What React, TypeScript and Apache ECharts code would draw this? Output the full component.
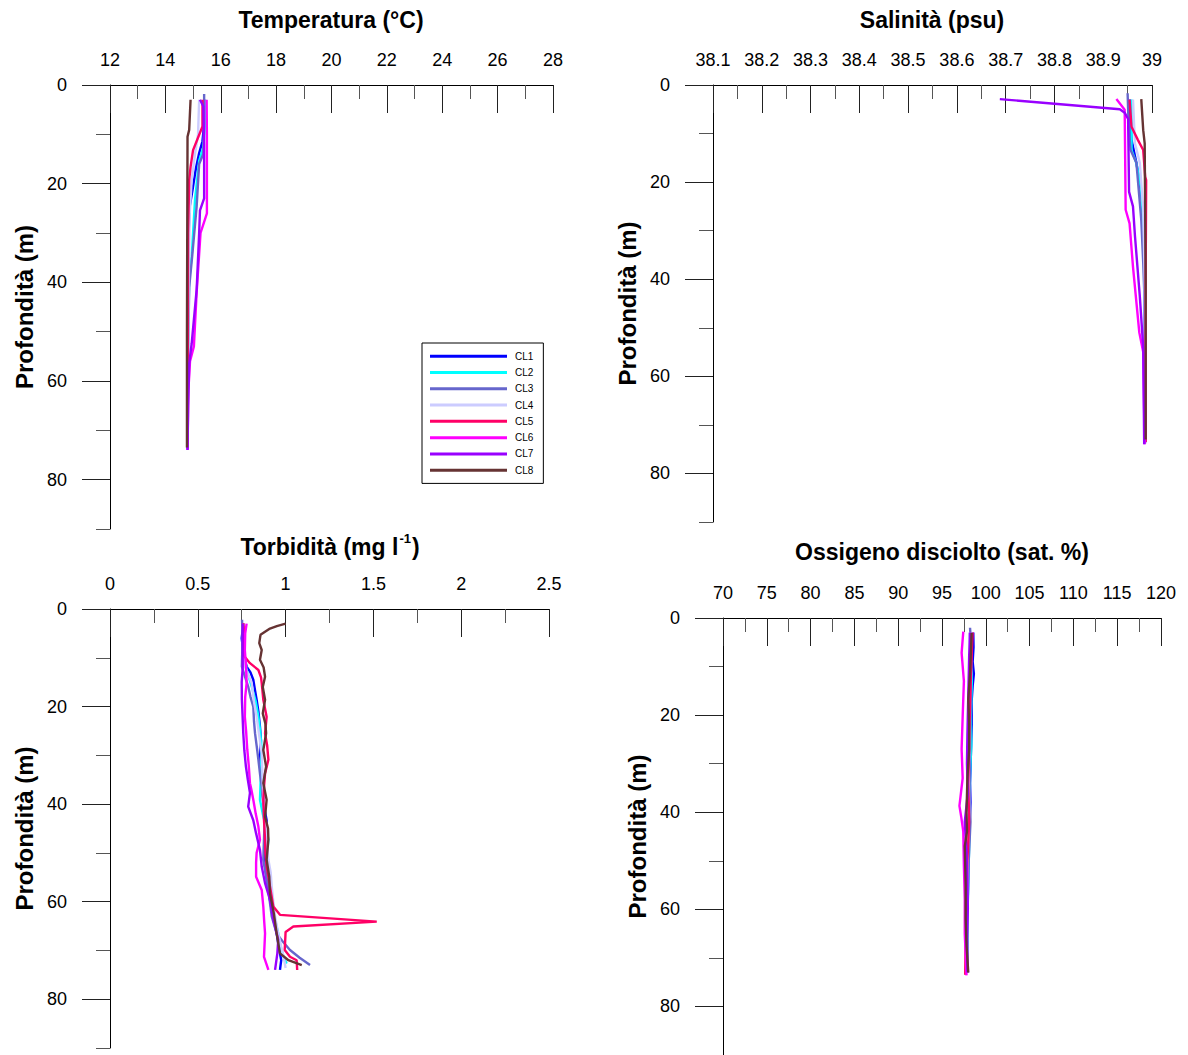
import React, { useEffect, useRef } from "react";
import * as echarts from "echarts";

// ---------- Stations ----------
const stations = ["CL1", "CL2", "CL3", "CL4", "CL5", "CL6", "CL7", "CL8"];
const colors = ["#0000ff", "#00ffff", "#6666cc", "#ccccff", "#ff0066", "#ff00ff", "#9900ff", "#663333"];

// ---------- Y axis (depth) ----------
const depthLabels = [0, 20, 40, 60, 80];

// ---------- Temperatura (°C) : [value, depth] ----------
const tempCL1 = [[15.42, 3], [15.4, 8], [15.34, 11.4], [15.22, 13.8], [15.1, 17], [14.98, 21.3], [14.88, 24.6], [14.84, 30], [14.82, 40], [14.81, 55], [14.8, 73.5]];
const tempCL2 = [[15.45, 3], [15.42, 9], [15.37, 12.7], [15.22, 15.4], [15.07, 23.3], [14.95, 34.8], [14.86, 39.5], [14.82, 50], [14.8, 73.5]];
const tempCL3 = [[15.4, 1.8], [15.4, 8], [15.37, 14], [15.22, 16], [15.13, 24.6], [14.98, 34], [14.86, 41], [14.82, 55], [14.8, 73.8]];
const tempCL4 = [[15.22, 3], [15.18, 10], [15.07, 14], [14.95, 19.3], [14.88, 26], [14.84, 40], [14.81, 73]];
const tempCL5 = [[15.34, 3], [15.34, 8.4], [15.0, 13.2], [14.91, 16.6], [14.86, 19.3], [14.82, 30], [14.8, 73.5]];
const tempCL6 = [[15.49, 3], [15.5, 10], [15.5, 26], [15.27, 30], [15.13, 42], [15.03, 53], [14.89, 56], [14.83, 62], [14.8, 74]];
const tempCL7 = [[15.25, 3], [15.37, 4.3], [15.4, 12], [15.4, 23], [15.25, 25.4], [15.22, 30], [15.13, 41.5], [14.95, 52.4], [14.86, 56.5], [14.82, 65], [14.8, 74]];
const tempCL8 = [[14.91, 3], [14.86, 9.1], [14.8, 10.5], [14.79, 30], [14.78, 50], [14.78, 73.5]];

// ---------- Salinità (psu) ----------
const salCL1 = [[38.955, 3], [38.956, 8], [38.958, 11.3], [38.968, 16], [38.978, 22.3], [38.984, 30], [38.985, 50], [38.986, 73.5]];
const salCL2 = [[38.958, 3], [38.958, 13.4], [38.968, 16.1], [38.978, 21.6], [38.985, 33], [38.986, 50], [38.986, 73.5]];
const salCL3 = [[38.95, 1.7], [38.952, 8], [38.956, 13.4], [38.968, 16], [38.978, 27.8], [38.982, 36.6], [38.985, 45], [38.986, 73.8]];
const salCL4 = [[38.961, 3], [38.965, 12], [38.975, 16], [38.982, 25.7], [38.985, 40], [38.986, 73]];
const salCL5 = [[38.954, 3], [38.958, 8.6], [38.971, 11.3], [38.982, 13.4], [38.986, 18.9], [38.988, 19.6], [38.987, 40], [38.987, 73.5]];
const salCL6 = [[38.927, 2.9], [38.944, 5.1], [38.946, 25.7], [38.954, 28.5], [38.961, 37.4], [38.974, 51], [38.982, 55], [38.985, 74]];
const salCL7 = [[38.688, 2.9], [38.934, 5], [38.944, 5.7], [38.951, 7], [38.953, 22], [38.961, 25], [38.965, 31], [38.975, 43.5], [38.982, 54], [38.984, 74]];
const salCL8 = [[38.978, 2.9], [38.982, 9.3], [38.985, 12], [38.987, 40], [38.987, 73]];

// ---------- Torbidità (mg l-1) ----------
const turbCL1 = [[0.76, 3], [0.75, 6], [0.76, 9], [0.778, 11.8], [0.8, 13], [0.816, 14.5], [0.825, 16.5], [0.835, 18.6], [0.845, 21], [0.854, 24.1], [0.86, 27], [0.855, 30], [0.864, 35], [0.87, 38], [0.88, 41], [0.892, 43.3], [0.885, 47], [0.883, 52.8], [0.895, 56], [0.911, 59.6], [0.93, 63], [0.949, 66.5], [0.96, 69], [0.975, 72], [0.968, 74]];
const turbCL2 = [[0.76, 3], [0.755, 8], [0.778, 12.5], [0.807, 15.9], [0.83, 19], [0.845, 22.1], [0.855, 25], [0.864, 28.9], [0.86, 33], [0.854, 39.1], [0.87, 42], [0.89, 45], [0.902, 47.3], [0.895, 50], [0.892, 52.8], [0.905, 56], [0.921, 59.6], [0.935, 63], [0.958, 66.5], [0.97, 69], [0.99, 71.5], [1.006, 72.7]];
const turbCL3 = [[0.752, 2.2], [0.755, 6], [0.751, 11.8], [0.77, 14], [0.787, 15.9], [0.8, 18], [0.816, 20], [0.82, 23], [0.826, 25.5], [0.835, 28], [0.845, 30.9], [0.855, 34], [0.864, 36.4], [0.87, 39], [0.883, 41.9], [0.878, 46], [0.873, 51.4], [0.89, 55], [0.902, 57.6], [0.91, 60], [0.921, 63], [0.949, 66.5], [0.98, 68], [1.025, 69.9], [1.08, 71.5], [1.139, 73]];
const turbCL4 = [[0.76, 3], [0.758, 7], [0.768, 11.8], [0.787, 13.5], [0.807, 15.2], [0.82, 19], [0.835, 22], [0.85, 26], [0.864, 29.6], [0.868, 34], [0.873, 39], [0.885, 44], [0.895, 48], [0.902, 51.4], [0.915, 54], [0.921, 56.9], [0.93, 60], [0.94, 63], [0.955, 66], [0.975, 69.2], [0.99, 71.5], [1.0, 73.6]];
const turbCL5 = [[0.759, 2.9], [0.765, 5], [0.759, 8], [0.765, 9.7], [0.797, 11.1], [0.845, 12.5], [0.86, 14], [0.864, 15.2], [0.873, 18.6], [0.892, 22.1], [0.883, 25.5], [0.895, 28], [0.902, 30.9], [0.883, 33.7], [0.878, 36], [0.873, 39.1], [0.877, 43.3], [0.883, 47.3], [0.885, 50], [0.892, 52.8], [0.911, 56.9], [0.93, 61], [0.968, 62.7], [1.519, 64.1], [1.044, 65.1], [1.0, 66.2], [0.995, 69.9], [1.025, 71.3], [1.063, 72], [1.066, 74]];
const turbCL6 = [[0.778, 3], [0.77, 5], [0.768, 8.4], [0.775, 12], [0.778, 15.2], [0.77, 18], [0.768, 22.1], [0.775, 25], [0.782, 28.9], [0.79, 32], [0.797, 35.7], [0.805, 37], [0.816, 39.1], [0.83, 42], [0.845, 44.6], [0.854, 47.3], [0.835, 50], [0.832, 52], [0.832, 54.9], [0.864, 57.6], [0.873, 61], [0.878, 64], [0.883, 66.5], [0.877, 71.3], [0.902, 74]];
const turbCL7 = [[0.756, 3], [0.755, 7], [0.756, 11.8], [0.75, 15], [0.751, 18.6], [0.755, 22], [0.759, 25.5], [0.765, 29], [0.774, 32.3], [0.785, 35], [0.797, 37.7], [0.787, 40.5], [0.816, 43.3], [0.832, 46], [0.854, 49.4], [0.864, 52.8], [0.883, 56.2], [0.911, 59.6], [0.93, 63.7], [0.958, 67.8], [0.953, 70.6], [0.94, 74]];
const turbCL8 = [[1.0, 3], [0.95, 3.5], [0.911, 4], [0.857, 5.3], [0.85, 7], [0.864, 8.4], [0.854, 10.4], [0.875, 12], [0.883, 13.9], [0.87, 16], [0.883, 18.6], [0.87, 21.4], [0.885, 23.5], [0.889, 25.5], [0.873, 28.9], [0.889, 32.3], [0.873, 35.7], [0.892, 39.1], [0.883, 42.6], [0.9, 45], [0.902, 47.3], [0.892, 51.4], [0.907, 54.9], [0.911, 58.3], [0.933, 62.4], [0.949, 66.5], [0.968, 70.6], [1.016, 72], [1.092, 73]];

// ---------- Ossigeno disciolto (sat. %) ----------
const oxyCL1 = [[98.57, 3], [98.6, 6], [98.5, 9], [98.64, 11.5], [98.5, 14], [98.38, 17.3], [98.4, 22], [98.3, 28], [98.2, 34], [98.25, 38], [98.1, 44], [98.0, 50], [97.95, 57], [97.8, 63], [97.85, 68], [97.9, 73]];
const oxyCL2 = [[98.3, 3], [98.3, 8], [98.4, 13], [98.3, 20], [98.35, 26], [98.2, 32], [98.15, 40], [98.1, 47], [98.0, 54], [97.9, 62], [97.95, 68], [97.9, 73]];
const oxyCL3 = [[98.2, 2], [98.35, 6], [98.3, 12], [98.25, 20], [98.2, 28], [98.15, 35], [98.25, 42], [98.05, 50], [97.95, 58], [97.9, 65], [97.95, 73]];
const oxyCL4 = [[98.1, 3], [98.25, 8], [98.2, 15], [98.15, 24], [98.05, 32], [98.1, 40], [97.95, 48], [97.9, 56], [97.85, 64], [97.9, 73]];
const oxyCL5 = [[98.5, 3], [98.4, 7], [98.3, 12], [98.2, 18], [98.1, 26], [98.0, 34], [98.1, 42], [97.9, 50], [97.8, 58], [97.7, 66], [97.65, 73.5]];
const oxyCL6 = [[97.43, 2.8], [97.24, 7.2], [97.5, 13], [97.36, 20.3], [97.24, 27], [97.36, 33], [96.99, 38.7], [97.2, 41], [97.43, 44], [97.5, 51], [97.6, 58], [97.6, 65], [97.8, 73.6]];
const oxyCL7 = [[98.2, 3], [98.1, 8], [98.0, 16], [97.9, 24], [97.85, 30], [97.95, 36], [97.6, 42], [97.8, 48], [97.9, 54], [97.95, 60], [97.85, 66], [97.9, 73]];
const oxyCL8 = [[98.38, 3.1], [98.3, 7], [98.2, 11.4], [98.0, 16.8], [98.1, 22], [98.1, 27], [97.9, 33], [97.8, 40], [97.85, 44], [97.6, 47], [97.7, 55], [97.7, 62], [97.8, 67.5], [98.0, 73]];

const tempData = [tempCL1, tempCL2, tempCL3, tempCL4, tempCL5, tempCL6, tempCL7, tempCL8];
const salData = [salCL1, salCL2, salCL3, salCL4, salCL5, salCL6, salCL7, salCL8];
const turbData = [turbCL1, turbCL2, turbCL3, turbCL4, turbCL5, turbCL6, turbCL7, turbCL8];
const oxyData = [oxyCL1, oxyCL2, oxyCL3, oxyCL4, oxyCL5, oxyCL6, oxyCL7, oxyCL8];

const FONT = "'Liberation Sans', Arial, Helvetica, sans-serif";

const panels = [
  { data: tempData, grid: { left: 110, top: 85, width: 443, height: 444 }, min: 12, max: 28, interval: 2, dec: 0 },
  { data: salData, grid: { left: 713, top: 85, width: 439, height: 437 }, min: 38.1, max: 39, interval: 0.1, dec: 1 },
  { data: turbData, grid: { left: 110, top: 609, width: 439, height: 439 }, min: 0, max: 2.5, interval: 0.5, dec: 1 },
  { data: oxyData, grid: { left: 723, top: 618, width: 438, height: 438 }, min: 70, max: 120, interval: 5, dec: 0 },
];

export default function App() {
  const ref = useRef<HTMLDivElement>(null);
  useEffect(() => {
    if (!ref.current) return;
    const chart = echarts.init(ref.current, null, { renderer: "svg" });

    const grids = panels.map((p) => ({ ...p.grid, containLabel: false }));
    const xAxes = panels.map((p, gi) => ({
      type: "value",
      gridIndex: gi,
      position: "top",
      min: p.min,
      max: p.max,
      interval: p.interval,
      axisLine: { show: true, onZero: false, lineStyle: { color: "#000", width: 1 } },
      axisTick: { show: true, inside: true, length: 28, lineStyle: { color: "#222", width: 1 } },
      minorTick: { show: true, splitNumber: 2, length: 14, lineStyle: { color: "#555", width: 1 } },
      axisLabel: {
        margin: 16,
        fontSize: 18,
        color: "#000",
        fontFamily: FONT,
        formatter: (v: number) => String(parseFloat(v.toFixed(p.dec))),
      },
      splitLine: { show: false },
    }));
    const yAxes: any[] = [];
    panels.forEach((p, gi) => {
      yAxes.push({
        type: "value",
        gridIndex: gi,
        position: "left",
        inverse: true,
        min: 0,
        max: 90,
        interval: 10,
        axisLine: { show: true, onZero: false, lineStyle: { color: "#000", width: 1 } },
        axisTick: { show: true, length: 14, lineStyle: { color: "#555", width: 1 } },
        axisLabel: { show: false },
        splitLine: { show: false },
        name: "Profondità (m)",
        nameLocation: "middle",
        nameGap: 74,
        nameRotate: 90,
        nameTextStyle: { fontSize: 24, fontWeight: "bold", color: "#000", fontFamily: FONT },
      });
      yAxes.push({
        type: "value",
        gridIndex: gi,
        position: "left",
        inverse: true,
        min: 0,
        max: 90,
        interval: 10,
        axisLine: { show: false, onZero: false },
        axisTick: { show: true, length: 28, customValues: depthLabels, lineStyle: { color: "#222", width: 1 } },
        axisLabel: { show: true, customValues: depthLabels, margin: 43, fontSize: 18, color: "#000", fontFamily: FONT },
        splitLine: { show: false },
      });
    });

    const series: any[] = [];
    panels.forEach((p, gi) => {
      p.data.forEach((d, si) => {
        series.push({
          type: "line",
          name: stations[si],
          xAxisIndex: gi,
          yAxisIndex: gi * 2,
          data: d,
          showSymbol: false,
          symbol: "none",
          lineStyle: { width: 2.4, color: colors[si] },
          itemStyle: { color: colors[si] },
          emphasis: { disabled: true },
        });
      });
    });

    const titleStyle = { font: `bold 23px ${FONT}`, fill: "#000", align: "center", verticalAlign: "middle" };

    chart.setOption({
      animation: false,
      backgroundColor: "#fff",
      grid: grids,
      xAxis: xAxes,
      yAxis: yAxes,
      series,
      legend: {
        show: true,
        data: stations,
        orient: "vertical",
        left: 422,
        top: 343,
        icon: "rect",
        itemWidth: 77,
        itemHeight: 3,
        itemGap: 0,
        padding: [5, 10, 5, 8],
        borderColor: "#000",
        borderWidth: 1,
        backgroundColor: "#fff",
        textStyle: { fontSize: 10, color: "#000", fontFamily: FONT, lineHeight: 16.3, padding: [0, 0, 0, 3] },
      },
      graphic: [
        { type: "text", x: 331, y: 20, style: { ...titleStyle, text: "Temperatura (°C)" } },
        { type: "text", x: 932, y: 20, style: { ...titleStyle, text: "Salinità (psu)" } },
        {
          type: "text",
          x: 330,
          y: 545,
          style: {
            ...titleStyle,
            text: "{m|Torbidità (mg l}{s|-1}{m|)}",
            rich: {
              m: { fontSize: 23, fontWeight: "bold", fontFamily: FONT, lineHeight: 26, verticalAlign: "bottom" },
              s: { fontSize: 13, fontWeight: "bold", fontFamily: FONT, lineHeight: 26, verticalAlign: "top", padding: [0, 1, 10, 1] },
            },
          },
        },
        { type: "text", x: 942, y: 552, style: { ...titleStyle, text: "Ossigeno disciolto (sat. %)" } },
      ],
    });
    return () => chart.dispose();
  }, []);
  return <div ref={ref} style={{ position: "absolute", left: 0, top: 0, width: 1188, height: 1055 }} />;
}
